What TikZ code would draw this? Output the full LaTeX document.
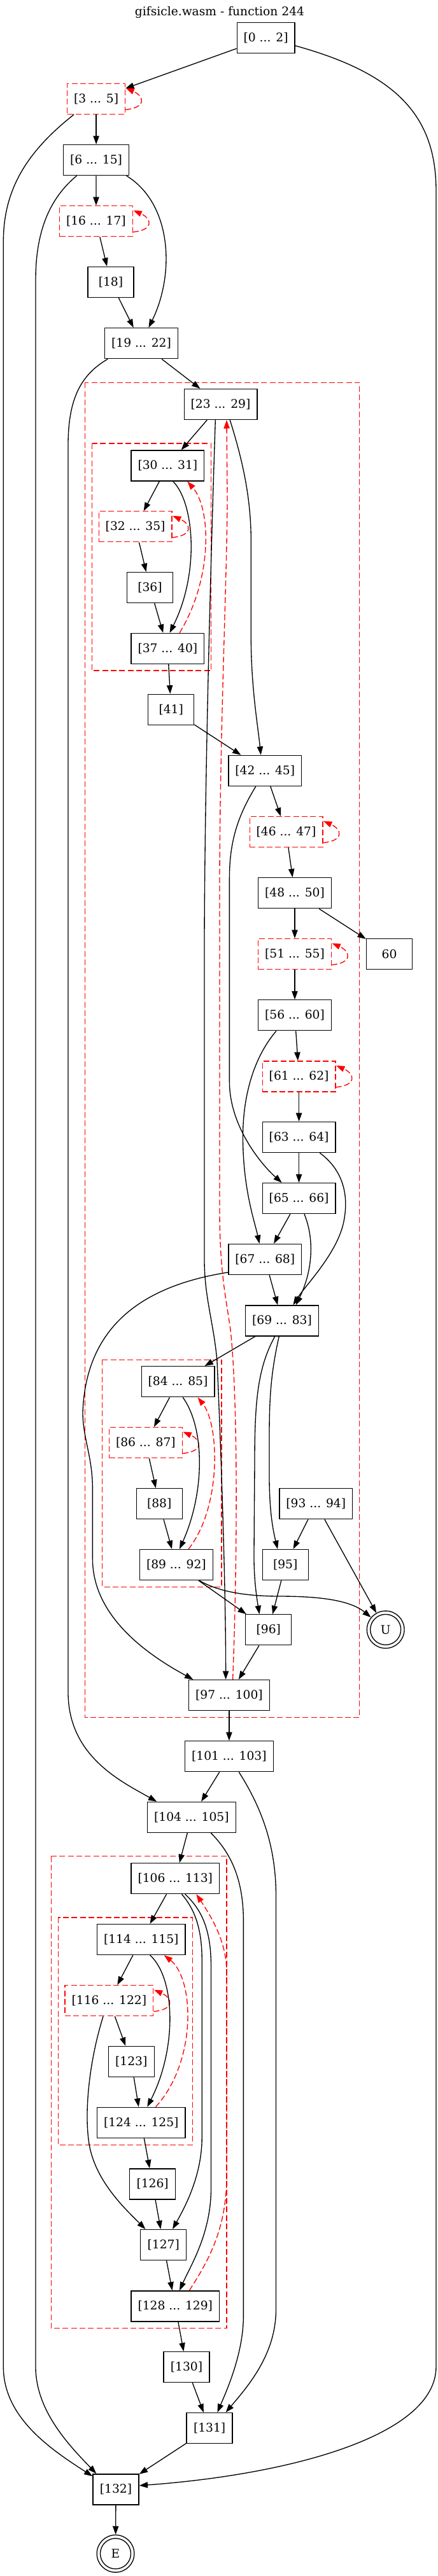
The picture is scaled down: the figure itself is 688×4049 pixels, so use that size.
\documentclass[tikz,border=0pt]{standalone}
\usepackage{fontspec}
\setmainfont{DejaVu Serif}
\usetikzlibrary{arrows.meta,calc}
\newcommand{\gvfont}{\fontsize{14pt}{17pt}\selectfont}
\tikzset{
  blk/.style={draw=black, line width=1pt, minimum height=36pt, inner sep=0pt, font=\gvfont},
  rdb/.style={blk, draw=red, dash pattern=on 6.75pt off 3.25pt},
  wa/.style={minimum width=68pt},
  wb/.style={minimum width=77pt},
  wc/.style={minimum width=86pt},
  wd/.style={minimum width=54pt},
  we/.style={minimum width=95pt},
  wf/.style={minimum width=104pt},
  term/.style={circle, draw=black, line width=1pt, minimum size=44pt, inner sep=0pt, font=\gvfont},
  conn/.style={draw=black, line width=1pt, -{Triangle[length=10pt,width=7pt]}},
  rconn/.style={draw=red, line width=1pt, dash pattern=on 6.75pt off 3.25pt, -{Triangle[length=10pt,width=7pt]}},
  cluster/.style={draw=red, line width=1pt, dash pattern=on 6.75pt off 3.25pt}
}
\newcommand{\loopat}[1]{\draw[rconn] ($(#1.east)+(0,17)$) .. controls ($(#1.east)+(33,14)$) and ($(#1.east)+(30,-4)$) .. ($(#1.east)+(0.5,-17)$);}
\begin{document}
\begin{tikzpicture}[x=0.75pt,y=-0.75pt]
\useasboundingbox (0,0) rectangle (688,4049);
% clusters
\draw[cluster] (133.5,601.2) rectangle (564.8,2699.5);
\draw[cluster] (144.5,696.9) rectangle (331.7,1054);
\draw[cluster] (160.4,2137.4) rectangle (348,2494.2);
\draw[cluster] (80.2,2917.5) rectangle (356,3659.5);
\draw[cluster] (91.2,3013.8) rectangle (302.2,3371.2);
% title
\node[font=\gvfont] (title) at (345,19.5) {gifsicle.wasm - function 244};
% nodes
\node[blk,wa] (n0) at (417.6,59.8) {[0 ... 2]};
\node[rdb,wa] (n3) at (151.1,155.4) {[3 ... 5]};
\node[blk,wb] (n6) at (151.1,251.6) {[6 ... 15]};
\node[rdb,wc] (n16) at (150.9,347.7) {[16 ... 17]};
\node[blk,wd] (n18) at (174,443.4) {[18]};
\node[blk,wc] (n19) at (222,539.7) {[19 ... 22]};
\node[blk,wc] (n23) at (346.5,635.5) {[23 ... 29]};
\node[blk,wc] (n30) at (263.4,732) {[30 ... 31]};
\node[rdb,wc] (n32) at (212.6,827.8) {[32 ... 35]};
\node[blk,wd] (n36) at (235.5,923.6) {[36]};
\node[blk,wc] (n37) at (263.4,1019.4) {[37 ... 40]};
\node[blk,wd] (n41) at (268.7,1115.2) {[41]};
\node[blk,wc] (n42) at (416.3,1211.4) {[42 ... 45]};
\node[rdb,wc] (n46) at (449.5,1307.6) {[46 ... 47]};
\node[blk,wc] (n48) at (463,1403.7) {[48 ... 50]};
\node[rdb,wc] (n51) at (463,1499.6) {[51 ... 55]};
\node[blk,wd] (n60) at (611.5,1499.6) {60};
\node[blk,wc] (n56) at (463,1595.8) {[56 ... 60]};
\node[rdb,wc] (n61) at (469.6,1691.9) {[61 ... 62]};
\node[blk,wc] (n63) at (469.6,1787.4) {[63 ... 64]};
\node[blk,wc] (n65) at (469.6,1883.6) {[65 ... 66]};
\node[blk,wc] (n67) at (416.3,1979.4) {[67 ... 68]};
\node[blk,wc] (n69) at (443,2075.9) {[69 ... 83]};
\node[blk,wc] (n84) at (279.5,2171.7) {[84 ... 85]};
\node[rdb,wc] (n86) at (228.9,2267.5) {[86 ... 87]};
\node[blk,wd] (n88) at (250.2,2363.7) {[88]};
\node[blk,wc] (n89) at (276.9,2459.5) {[89 ... 92]};
\node[blk,wc] (n93) at (496.3,2363.7) {[93 ... 94]};
\node[blk,wd] (n95) at (448.2,2459.5) {[95]};
\node[blk,wd] (n96) at (421.8,2561.8) {[96]};
\node[term] (U) at (605.7,2561.4) {U};
\draw[line width=1pt] (U.center) circle[radius=18pt];
\node[blk,we] (n97) at (359.9,2664.5) {[97 ... 100]};
\node[blk,wf] (n101) at (359.9,2760.7) {[101 ... 103]};
\node[blk,wf] (n104) at (300.9,2856.4) {[104 ... 105]};
\node[blk,wf] (n106) at (275.3,2952.6) {[106 ... 113]};
\node[blk,wf] (n114) at (221.8,3048.5) {[114 ... 115]};
\node[rdb,wf] (n116) at (171.4,3144.6) {[116 ... 122]};
\node[blk,wd] (n123) at (206.2,3240.4) {[123]};
\node[blk,wf] (n124) at (221.8,3336.3) {[124 ... 125]};
\node[blk,wd] (n126) at (239.6,3432.8) {[126]};
\node[blk,wd] (n127) at (256.8,3528.5) {[127]};
\node[blk,wf] (n128) at (275.3,3624.8) {[128 ... 129]};
\node[blk,wd] (n130) at (293,3720.6) {[130]};
\node[blk,wd] (n131) at (329.1,3816.5) {[131]};
\node[blk,wd] (n132) at (182,3912.8) {[132]};
\node[term] (E) at (181.5,4013.8) {E};
\draw[line width=1pt] (E.center) circle[radius=18pt];
% straight edges
\draw[conn] (n0) -- (n3);
\draw[conn] (n3) -- (n6);
\draw[conn] (n6) -- (n16);
\draw[conn] (n16) -- (n18);
\draw[conn] (n18) -- (n19);
\draw[conn] (n19) -- (n23);
\draw[conn] (n23) -- (n30);
\draw[conn] (n30) -- (n32);
\draw[conn] (n32) -- (n36);
\draw[conn] (n36) -- (n37);
\draw[conn] (n37) -- (n41);
\draw[conn] (n41) -- (n42);
\draw[conn] (n42) -- (n46);
\draw[conn] (n46) -- (n48);
\draw[conn] (n48) -- (n51);
\draw[conn] (n48) -- (n60);
\draw[conn] (n51) -- (n56);
\draw[conn] (n56) -- (n61);
\draw[conn] (n61) -- (n63);
\draw[conn] (n63) -- (n65);
\draw[conn] (n65) -- (n67);
\draw[conn] (n67) -- (n69);
\draw[conn] (n69) -- (n84);
\draw[conn] (n84) -- (n86);
\draw[conn] (n86) -- (n88);
\draw[conn] (n88) -- (n89);
\draw[conn] (n89) -- (n96);
\draw[conn] (n93) -- (n95);
\draw[conn] (n93) -- (U);
\draw[conn] (n95) -- (n96);
\draw[conn] (n96) -- (n97);
\draw[conn] (n97) -- (n101);
\draw[conn] (n101) -- (n104);
\draw[conn] (n104) -- (n106);
\draw[conn] (n106) -- (n114);
\draw[conn] (n114) -- (n116);
\draw[conn] (n116) -- (n123);
\draw[conn] (n123) -- (n124);
\draw[conn] (n124) -- (n126);
\draw[conn] (n126) -- (n127);
\draw[conn] (n127) -- (n128);
\draw[conn] (n128) -- (n130);
\draw[conn] (n130) -- (n131);
\draw[conn] (n131) -- (n132);
\draw[conn] (n132) -- (E);
% self loops
\loopat{n3}
\loopat{n16}
\loopat{n32}
\loopat{n46}
\loopat{n51}
\loopat{n61}
\loopat{n86}
\loopat{n116}
% curved edges
\draw[conn] ($(n0.east)+(0,12)$) .. controls (620,115) and (685,180) .. (685,300) -- (685,3720) .. controls (685,3830) and (450,3890) .. ($(n132.east)+(0,-6)$);
\draw[conn] ($(n3.south west)+(11,0)$) .. controls (40,240) and (5.3,300) .. (5.3,380) -- (5.3,3720) .. controls (5.3,3800) and (80,3850) .. ($(n132.north west)+(0,4)$);
\draw[conn] ($(n6.south west)+(21.4,0)$) .. controls (80,310) and (56,360) .. (56,440) -- (56,3720) .. controls (56,3790) and (110,3845) .. ($(n132.north west)+(6,0)$);
\draw[conn] ($(n6.south east)+(-4.5,0)$) .. controls (270,320) and (275,430) .. ($(n19.north)+(11.5,0)$);
\draw[conn] ($(n19.south west)+(5.3,0)$) .. controls (125,590) and (107,630) .. (107,700) -- (107,2660) .. controls (107,2760) and (190,2800) .. ($(n104.north west)+(15.4,0)$);
\draw[conn] ($(n23.south)+(-8.2,0)$) .. controls (335,760) and (321,1200) .. (321,1500) -- (321,1980) .. controls (321,2040) and (336,2080) .. (341,2140) .. controls (348,2300) and (354.6,2500) .. ($(n97.north)+(-5.3,0)$);
\draw[conn] ($(n23.south)+(14.7,0)$) .. controls (380,720) and (394.3,780) .. (394.3,850) -- (394.3,1000) .. controls (394.3,1080) and (405,1140) .. ($(n42.north)+(-6.6,0)$);
\draw[rconn] ($(n97.north)+(5.7,0)$) .. controls (373,2450) and (374,2200) .. (362,2090) .. controls (355,2040) and (345,2000) .. (345,1900) -- (345,1400) .. controls (345,1150) and (357,900) .. (357,780) -- ($(n23.south)+(9.5,0)$);
\draw[conn] ($(n30.south)+(8.4,0)$) .. controls (305,790) and (314,900) .. ($(n37.north)+(3.1,0)$);
\draw[rconn] ($(n37.north)+(18.6,0)$) .. controls (334,910) and (332,800) .. ($(n30.south)+(30.9,0)$);
\draw[conn] ($(n42.south)+(-14.5,0)$) .. controls (375,1280) and (360.4,1320) .. (360.4,1380) -- (360.4,1700) .. controls (360.4,1770) and (410,1830) .. ($(n65.north)+(-26.9,0)$);
\draw[conn] ($(n56.south)+(-29,0)$) .. controls (400,1660) and (381,1720) .. (381.5,1790) .. controls (382,1870) and (400,1920) .. ($(n67.north)+(-8.8,0)$);
\draw[conn] ($(n63.south)+(32.6,0)$) .. controls (540,1840) and (548,1880) .. (540,1920) .. controls (530,1970) and (480,2020) .. ($(n69.north)+(17.4,0)$);
\draw[conn] ($(n65.south)+(8.4,0)$) .. controls (495,1950) and (490,2000) .. ($(n69.north)+(21.8,0)$);
\draw[conn] ($(n67.west)+(0,20.5)$) .. controls (230,2020) and (135,2080) .. (130,2220) .. controls (130,2260) and (145.4,2290) .. (145.4,2340) -- (145.4,2450) .. controls (145.4,2540) and (230,2600) .. ($(n97.north west)+(7.5,0)$);
\draw[conn] ($(n69.south)+(-11.3,0)$) .. controls (405,2150) and (400,2200) .. (400,2300) -- (399,2440) .. controls (398.5,2480) and (403,2510) .. ($(n96.north)+(-14.3,0)$);
\draw[conn] ($(n69.south)+(-4.7,0)$) .. controls (425,2160) and (423,2200) .. (423,2260) -- (423,2320) .. controls (423,2380) and (430,2410) .. ($(n95.north)+(-12.1,0)$);
\draw[conn] ($(n84.south)+(7.7,0)$) .. controls (322,2245) and (322,2345) .. ($(n89.north)+(5.1,0)$);
\draw[rconn] ($(n89.north)+(19.1,0)$) .. controls (348,2370) and (345,2240) .. ($(n84.south)+(31.1,0)$);
\draw[conn] ($(n89.south)+(36,0)$) .. controls (340,2500) and (380,2509) .. (440,2509) .. controls (500,2509) and (550,2515) .. (U);
\draw[conn] ($(n101.south)+(15.4,0)$) .. controls (410,2840) and (433.5,2900) .. (433.5,2980) -- (433.5,3630) .. controls (433.5,3700) and (390,3750) .. ($(n131.north)+(25.5,0)$);
\draw[conn] ($(n104.south)+(30.4,0)$) .. controls (360,2910) and (382.4,2950) .. (382.4,3020) -- (382.4,3640) .. controls (382.4,3700) and (355,3760) .. ($(n131.north)+(12.3,0)$);
\draw[conn] ($(n106.south)+(10.2,0)$) .. controls (305,3000) and (317.2,3030) .. (317.2,3080) -- (317.2,3360) .. controls (317.2,3420) and (290,3470) .. ($(n127.north)+(14.2,0)$);
\draw[conn] ($(n106.south)+(15.4,0)$) .. controls (315,3000) and (331.5,3030) .. (331.5,3090) -- (331.5,3440) .. controls (331.5,3510) and (300,3560) .. ($(n128.north)+(6.7,0)$);
\draw[rconn] ($(n128.north)+(22.1,0)$) .. controls (330,3550) and (356,3500) .. (356,3420) -- (356,3100) .. controls (356,3050) and (330,3010) .. ($(n106.south)+(33.1,0)$);
\draw[conn] ($(n114.south)+(13.9,0)$) .. controls (276,3110) and (278,3220) .. ($(n124.north)+(9.5,0)$);
\draw[rconn] ($(n124.north)+(22.7,0)$) .. controls (310,3240) and (305,3110) .. ($(n114.south)+(35.9,0)$);
\draw[conn] ($(n116.south)+(-9.3,0)$) .. controls (140,3240) and (132,3320) .. (140,3370) .. controls (150,3430) and (200,3475) .. ($(n127.north west)+(8.3,0)$);
\end{tikzpicture}
\end{document}
